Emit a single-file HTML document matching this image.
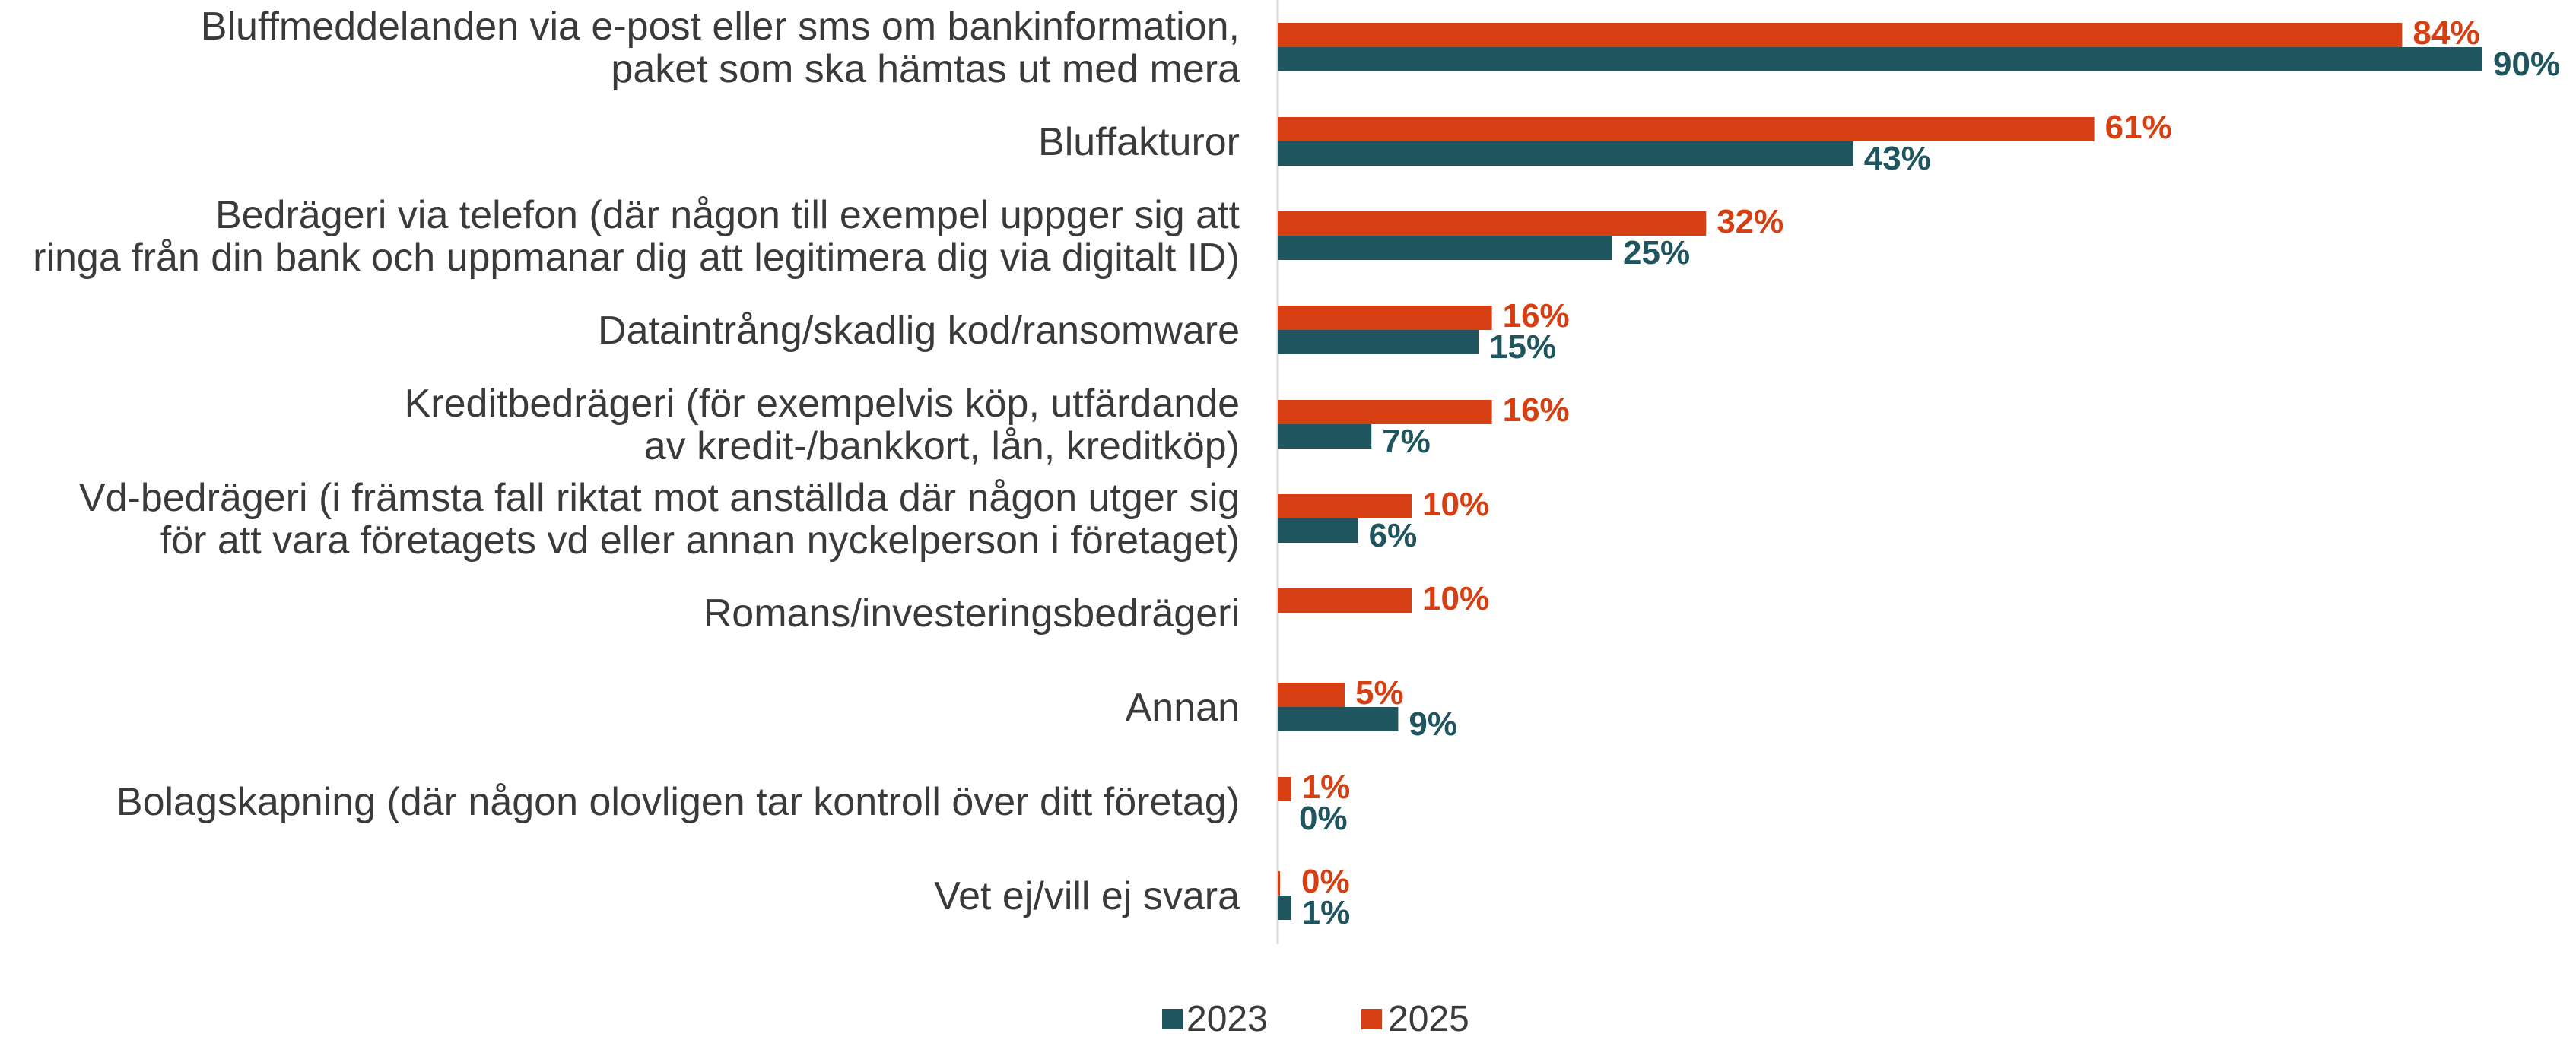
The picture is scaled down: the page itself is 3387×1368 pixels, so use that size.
<!DOCTYPE html>
<html><head><meta charset="utf-8"><style>
html,body{margin:0;padding:0;background:#fff;}
svg{display:block;}
.lbl{font-family:"Liberation Sans",sans-serif;font-size:52px;fill:#3a3a3a;}
.leg{font-family:"Liberation Sans",sans-serif;font-size:48px;fill:#3a3a3a;}
.val{font-family:"Liberation Sans",sans-serif;font-size:44px;font-weight:bold;}
</style></head><body>
<svg id="chart" width="3387" height="1368" viewBox="0 0 3387 1368" xmlns="http://www.w3.org/2000/svg">
<line x1="1680" y1="0" x2="1680" y2="1242" stroke="#d9d9d9" stroke-width="3"/>
<g id="bars"></g>
<g id="labels"></g>
<g>
<rect x="1528" y="1327" width="27" height="27" fill="#1f555f"/>
<text class="leg" x="1560" y="1356">2023</text>
<rect x="1790" y="1327" width="27" height="27" fill="#d63f12"/>
<text class="leg" x="1825" y="1356">2025</text>
</g>
</svg>
<script>
const categories = [
 ["Bluffmeddelanden via e-post eller sms om bankinformation,","paket som ska hämtas ut med mera"],
 ["Bluffakturor"],
 ["Bedrägeri via telefon (där någon till exempel uppger sig att","ringa från din bank och uppmanar dig att legitimera dig via digitalt ID)"],
 ["Dataintrång/skadlig kod/ransomware"],
 ["Kreditbedrägeri (för exempelvis köp, utfärdande","av kredit-/bankkort, lån, kreditköp)"],
 ["Vd-bedrägeri (i främsta fall riktat mot anställda där någon utger sig","för att vara företagets vd eller annan nyckelperson i företaget)"],
 ["Romans/investeringsbedrägeri"],
 ["Annan"],
 ["Bolagskapning (där någon olovligen tar kontroll över ditt företag)"],
 ["Vet ej/vill ej svara"]
];
const values2025 = [84,61,32,16,16,10,10,5,1,0];
const values2023 = [90,43,25,15,7,6,null,9,0,1];
const seriesNames = ["2025","2023"];

const NS="http://www.w3.org/2000/svg";
const x0=1680, pxPerPct=17.6, top0=30, groupStep=124, barH=32;
function xScale(v){return x0+v*pxPerPct;}
function groupTop(i){return top0+i*groupStep;}
const bars=document.getElementById('bars'), labels=document.getElementById('labels');
function mk(tag,attrs){const e=document.createElementNS(NS,tag);for(const k in attrs)e.setAttribute(k,attrs[k]);return e;}
categories.forEach((lines,i)=>{
  const gt=groupTop(i);
  const series=[[values2025[i],"#d63f12",0,"2025"],[values2023[i],"#1f555f",1,"2023"]];
  series.forEach(([v,col,k,name])=>{
    if(v===null)return;
    const y=gt+k*barH;
    const w=Math.max(xScale(v)-x0, v===0&&k===0?3:0);
    const r=mk('rect',{x:x0,y:y,width:w,height:barH,fill:col});
    
    
    bars.appendChild(r);
    const t=mk('text',{x:x0+w+14+(v===0?14:0),y:y+barH/2+15+(k===0?-3:6),fill:col,'class':'val'});
    t.textContent=v+'%';
    
    
    labels.appendChild(t);
  });
  const center=gt+barH;
  const lh=56;
  const startY=center-(lines.length-1)*lh/2+18;
  const t=mk('text',{'class':'lbl','text-anchor':'end'});
  
  
  lines.forEach((ln,j)=>{const s=mk('tspan',{x:1630,y:startY+j*lh});s.textContent=ln;t.appendChild(s);});
  labels.appendChild(t);
});
</script>
</body></html>
